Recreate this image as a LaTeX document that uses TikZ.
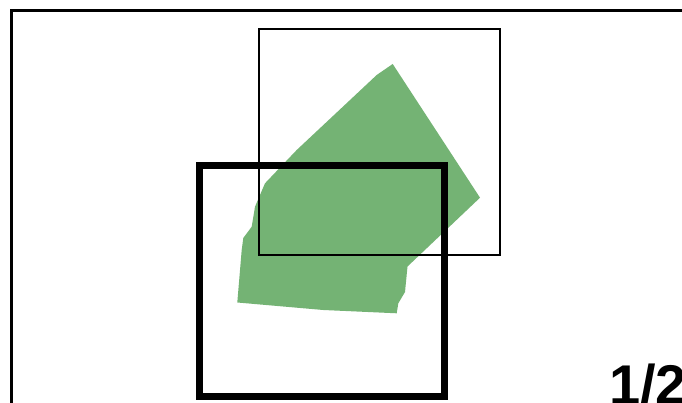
\documentclass[tikz,border=0pt]{standalone}
\usepackage{fontspec}
\setmainfont{Liberation Sans}
\definecolor{leaf}{RGB}{116,179,116}
\begin{document}
\begin{tikzpicture}[x=1pt,y=-1pt,
  framestyle/.style={draw=black,line width=3pt},
  thinbox/.style={draw=black,line width=2pt,inner sep=0pt,outer sep=0pt,anchor=north west},
  thickbox/.style={draw=black,line width=7pt,inner sep=0pt,outer sep=0pt,anchor=north west},
  labelstyle/.style={font=\bfseries\fontsize{56}{56}\selectfont,inner sep=0pt,anchor=base west}]
\useasboundingbox (0,0) rectangle (682,403);
\clip (0,0) rectangle (682,403);
\fill[white] (0,0) rectangle (682,403);
% green shape
\fill[leaf] (392.7,64) -- (480,197.7) -- (407.5,266.5) -- (405,292) -- (398.3,303.3) -- (396.7,313.3)
  -- (323.3,310) -- (237.3,302.5) -- (241.7,250) -- (243.3,238) -- (251.7,226.7) -- (255,206.7)
  -- (265,183.3) -- (296.7,150) -- (376.7,75) -- cycle;
% outer frame
\draw[framestyle] (11,420) -- (11,11) -- (700,11);
% thin box
\node[thinbox,minimum width=241pt,minimum height=225pt] (upper) at (258.5,29.5) {};
% thick box
\node[thickbox,minimum width=245pt,minimum height=230pt] (lower) at (199,166) {};
% label
\node[labelstyle] (pg) at (609,404) {1/2};
\end{tikzpicture}
\end{document}
